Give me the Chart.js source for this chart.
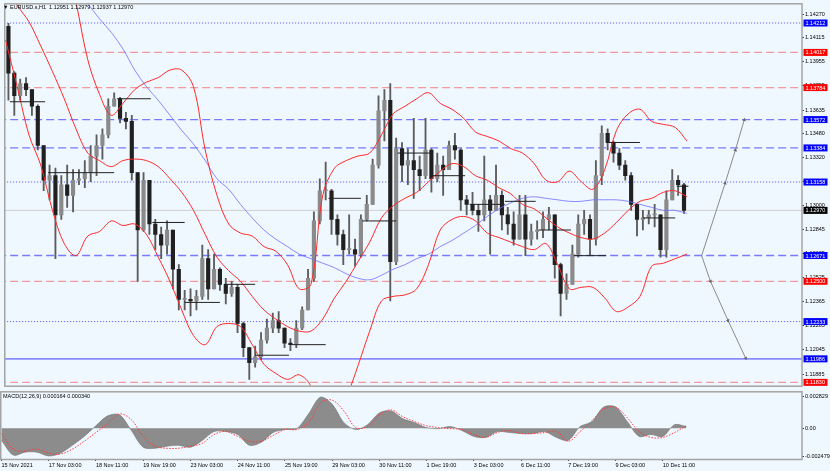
<!DOCTYPE html>
<html>
<head>
<meta charset="utf-8">
<script src="https://cdn.jsdelivr.net/npm/chart.js@4.4.0/dist/chart.umd.min.js"></script>
<style>
html, body { margin: 0; padding: 0; background: #f0f8ff; }
#wrap { position: relative; width: 830px; height: 471px; overflow: hidden; background: #f0f8ff; }
canvas { position: absolute; left: 0; }
#cMain { top: 0; }
#cMacd { top: 388px; }
.hdr { position: absolute; font: 5.5px "Liberation Sans"; color: #000; white-space: nowrap; }
</style>
</head>
<body>
<div id="wrap">
  <canvas id="cMain" width="830" height="390"></canvas>
  <canvas id="cMacd" width="830" height="83"></canvas>
  <div class="hdr" style="left:3px;top:4px;">&#9660; EURUSD.s,H1&nbsp; 1.12951 1.12979 1.12937 1.12970</div>
  <div class="hdr" style="left:3px;top:393px;">MACD(12,26,9) 0.000164 0.000340</div>
</div>
<script>
// 4 hour candles
const firstOpen = 1.1419;
const candleHigh = [1.1421,1.1389,1.1384,1.1385,1.1377,1.1367,1.1340,1.1327,1.1325,1.1320,
  1.1327,1.1324,1.1324,1.1330,1.1340,1.1347,1.1351,1.1371,1.1375,1.1372,
  1.1362,1.1360,1.1322,1.1322,1.1317,1.1291,1.1286,1.1290,1.1284,1.1261,
  1.1244,1.1245,1.1244,1.1274,1.1271,1.1268,1.1259,1.1252,1.1250,1.1248,
  1.1223,1.1206,1.1207,1.1216,1.1225,1.1229,1.1230,1.1219,1.1212,1.1224,
  1.1233,1.1258,1.1296,1.1318,1.1329,1.1311,1.1294,1.1284,1.1294,1.1278,
  1.1294,1.1307,1.1331,1.1373,1.1377,1.1381,1.1345,1.1342,1.1338,1.1358,
  1.1333,1.1358,1.1338,1.1335,1.1333,1.1343,1.1348,1.1338,1.1307,1.1309,
  1.1301,1.1333,1.1307,1.1327,1.1310,1.1299,1.1296,1.1307,1.1307,1.1288,
  1.1290,1.1296,1.1299,1.1294,1.1262,1.1255,1.1274,1.1294,1.1297,1.1294,
  1.1330,1.1353,1.1351,1.1343,1.1338,1.1330,1.1322,1.1301,1.1297,1.1297,
  1.1301,1.1294,1.1310,1.1324,1.1320,1.1315];
const candleLow = [1.1370,1.1360,1.1370,1.1373,1.1360,1.1337,1.1310,1.1304,1.1265,1.1291,
  1.1299,1.1296,1.1314,1.1312,1.1316,1.1320,1.1331,1.1345,1.1366,1.1355,
  1.1351,1.1317,1.1250,1.1283,1.1281,1.1271,1.1265,1.1268,1.1245,1.1231,
  1.1231,1.1227,1.1231,1.1238,1.1238,1.1245,1.1244,1.1235,1.1240,1.1216,
  1.1200,1.1185,1.1193,1.1198,1.1209,1.1216,1.1216,1.1206,1.1204,1.1206,
  1.1218,1.1231,1.1250,1.1288,1.1304,1.1281,1.1274,1.1261,1.1268,1.1260,
  1.1266,1.1290,1.1301,1.1325,1.1343,1.1237,1.1261,1.1316,1.1314,1.1305,
  1.1310,1.1318,1.1309,1.1316,1.1307,1.1324,1.1331,1.1297,1.1294,1.1294,
  1.1283,1.1290,1.1268,1.1297,1.1284,1.1281,1.1274,1.1278,1.1267,1.1274,
  1.1278,1.1279,1.1284,1.1252,1.1227,1.1238,1.1248,1.1266,1.1281,1.1267,
  1.1274,1.1314,1.1337,1.1329,1.1324,1.1317,1.1297,1.1280,1.1284,1.1288,
  1.1286,1.1266,1.1266,1.1304,1.1307,1.1295];
const candleClose = [1.1388,1.1373,1.1381,1.1377,1.1366,1.1340,1.1317,1.1320,1.1294,1.1314,
  1.1307,1.1317,1.1318,1.1322,1.1333,1.1340,1.1347,1.1366,1.1371,1.1358,
  1.1356,1.1322,1.1284,1.1317,1.1288,1.1281,1.1274,1.1284,1.1258,1.1238,
  1.1238,1.1237,1.1240,1.1265,1.1245,1.1258,1.1248,1.1242,1.1246,1.1222,
  1.1206,1.1196,1.1200,1.1211,1.1219,1.1224,1.1219,1.1209,1.1208,1.1219,
  1.1231,1.1252,1.1290,1.1310,1.1310,1.1291,1.1281,1.1271,1.1271,1.1268,
  1.1291,1.1301,1.1327,1.1363,1.1370,1.1263,1.1338,1.1327,1.1330,1.1324,
  1.1320,1.1337,1.1318,1.1327,1.1324,1.1340,1.1337,1.1304,1.1301,1.1297,
  1.1294,1.1304,1.1297,1.1307,1.1294,1.1288,1.1278,1.1294,1.1278,1.1283,
  1.1284,1.1291,1.1294,1.1261,1.1242,1.1248,1.1268,1.1288,1.1291,1.1278,
  1.1320,1.1348,1.1342,1.1335,1.1327,1.1320,1.1301,1.1291,1.1292,1.1294,
  1.1294,1.1271,1.1304,1.1317,1.1314,1.1297];

// indicators sampled every 8 hours
const bbUpper = [1.1486,1.1487,1.1497,1.1484,1.1481,1.1467,1.1435,1.1397,1.1374,1.1360,
  1.1368,1.1377,1.1382,1.1385,1.1390,1.1390,1.1379,1.1337,1.1307,1.1288,
  1.1282,1.1280,1.1273,1.1270,1.1261,1.1245,1.1248,1.1307,1.1325,1.1330,
  1.1333,1.1335,1.1347,1.1361,1.1366,1.1371,1.1375,1.1368,1.1364,1.1358,
  1.1349,1.1346,1.1343,1.1338,1.1335,1.1328,1.1317,1.1316,1.1323,1.1316,
  1.1311,1.1324,1.1350,1.1361,1.1364,1.1356,1.1354,1.1352,1.1343];
const bbMid = [1.1448,1.1433,1.1422,1.1406,1.1389,1.1371,1.1351,1.1335,1.1330,1.1326,
  1.1330,1.1331,1.1330,1.1326,1.1318,1.1309,1.1297,1.1281,1.1266,1.1257,
  1.1250,1.1240,1.1231,1.1225,1.1220,1.1217,1.1217,1.1225,1.1239,1.1250,
  1.1263,1.1276,1.1292,1.1300,1.1305,1.1309,1.1316,1.1323,1.1328,1.1326,
  1.1320,1.1317,1.1312,1.1308,1.1301,1.1298,1.1292,1.1286,1.1282,1.1279,
  1.1278,1.1282,1.1289,1.1297,1.1303,1.1305,1.1309,1.1310,1.1306];
const bbLower = [1.1410,1.1379,1.1347,1.1327,1.1297,1.1275,1.1267,1.1280,1.1283,1.1290,
  1.1287,1.1288,1.1281,1.1266,1.1250,1.1231,1.1214,1.1208,1.1220,1.1222,
  1.1220,1.1208,1.1195,1.1189,1.1185,1.1188,1.1180,1.1144,1.1152,1.1172,
  1.1194,1.1217,1.1237,1.1240,1.1241,1.1245,1.1261,1.1284,1.1291,1.1293,
  1.1290,1.1282,1.1279,1.1276,1.1273,1.1271,1.1275,1.1261,1.1245,1.1246,
  1.1246,1.1239,1.1230,1.1233,1.1240,1.1260,1.1262,1.1265,1.1268];
const maLine = [null,null,null,null,null,1.1452,1.1443,1.1434,1.1424,1.1415,
  1.1404,1.1390,1.1379,1.1370,1.1360,1.1350,1.1341,1.1330,1.1318,1.1311,
  1.1301,1.1292,1.1284,1.1278,1.1273,1.1268,1.1265,1.1262,1.1259,1.1255,
  1.1252,1.1251,1.1254,1.1258,1.1261,1.1265,1.1268,1.1273,1.1277,1.1282,
  1.1287,1.1293,1.1298,1.1302,1.1305,1.1306,1.1305,1.1304,1.1303,1.1303,
  1.1304,1.1304,1.1304,1.1303,1.1301,1.1299,1.1297,1.1297,1.1295];
const macdMain = [-0.00106,-0.00235,-0.00209,-0.00209,-0.00243,-0.00218,-0.00149,-0.00071,0.00023,0.00109,
  0.00118,-0.00020,-0.00166,-0.00175,-0.00157,-0.00149,-0.00166,-0.00106,-0.00028,-0.00028,
  -0.00054,-0.00149,-0.00123,-0.00037,-0.00011,-0.00003,0.00126,0.00273,0.00212,0.00049,
  -0.00011,0.00032,0.00135,0.00152,0.00083,0.00049,0.00006,-0.00003,0.00015,-0.00020,
  -0.00071,-0.00080,-0.00028,-0.00037,-0.00046,-0.00046,-0.00028,-0.00080,-0.00106,0.00015,
  0.00058,0.00187,0.00187,0.00058,-0.00071,-0.00054,-0.00071,0.00032,0.00015];
const macdSignal = [-0.00046,-0.00183,-0.00200,-0.00183,-0.00218,-0.00226,-0.00183,-0.00114,-0.00037,0.00040,
  0.00126,0.00075,-0.00071,-0.00157,-0.00175,-0.00175,-0.00157,-0.00132,-0.00054,-0.00028,
  -0.00071,-0.00114,-0.00114,-0.00063,-0.00011,-0.00011,0.00049,0.00221,0.00247,0.00152,
  0.00006,0.00015,0.00118,0.00161,0.00101,0.00058,0.00023,0.00006,-0.00003,-0.00011,
  -0.00054,-0.00080,-0.00037,-0.00020,-0.00046,-0.00046,-0.00037,-0.00028,-0.00114,-0.00028,
  0.00066,0.00169,0.00187,0.00092,-0.00028,-0.00080,-0.00080,-0.00037,0.00023];

// short black day levels (start hour, end hour, price)
const pivotStart = [3,29,76,100,122,149,170,195,220,243,267,289,316,340,363,387,409,434,457];
const pivotEnd   = [27,74,99,122,146,170,193,218,242,266,289,313,340,361,385,409,432,456,465];
const pivotPrice = [1.1369,1.1322,1.1371,1.1289,1.1236,1.1248,1.1201,1.1208,1.1305,1.1290,
  1.1335,1.1320,1.1301,1.1303,1.1284,1.1267,1.1342,1.1292,1.1313];

// horizontal levels
const levelPrices = [1.14212,1.14017,1.13784,1.13572,1.13384,1.13158,1.12970,1.12671,1.12500,1.12233,1.11986,1.11830];
const levelKinds  = ['blueDot','red','red','blue','blue','blueDot','price','blue','red','blueDot','blueSolid','red'];

// projection arrows
const projUpHours = [474,490,497,503];
const projUpPrices = [1.1267,1.1315,1.1337,1.1357];
const projDownHours = [474,480,492,504];
const projDownPrices = [1.1267,1.1250,1.1224,1.1199];

const priceTicks = [1.14270,1.14115,1.13955,1.13795,1.13635,1.13480,1.13320,1.13160,1.13000,
  1.12845,1.12685,1.12525,1.12365,1.12205,1.12045,1.11885];
const macdTicks = [0.002829, 0, -0.002479];
const timeHours = [0,32,64,96,128,160,192,224,256,288,320,352,384,416,448];
const timeLabels = ['15 Nov 2021','17 Nov 03:00','18 Nov 11:00','19 Nov 19:00','23 Nov 03:00',
  '24 Nov 11:00','25 Nov 19:00','29 Nov 03:00','30 Nov 11:00','1 Dec 19:00','3 Dec 03:00',
  '6 Dec 11:00','7 Dec 19:00','9 Dec 03:00','10 Dec 11:00'];

Chart.defaults.font.family = 'Liberation Sans';
Chart.defaults.font.size = 5.5;
Chart.defaults.color = '#000';

const X_MIN = -1.016, X_MAX = 542.34;
const candleHours = candleClose.map((c, i) => 4 * i + 2);
const candleOpen = candleClose.map((c, i) => i === 0 ? firstOpen : candleClose[i - 1]);
const indHours = bbMid.map((v, k) => 8 * k);
const toPts = (hours, vals) => hours.map((h, i) => ({x: h, y: vals[i]}));

const levelStyle = {
  blueDot:   {color: '#5050ff', dash: [1, 2], width: 1},
  blue:      {color: 'rgba(90,90,255,0.8)', dash: [8, 4], width: 1.3},
  red:       {color: 'rgba(240,130,130,0.8)', dash: [8, 4], width: 1.3},
  blueSolid: {color: 'rgba(120,120,255,0.85)', dash: [], width: 1.6},
  price:     {color: '#cfcfcf', dash: [], width: 1}
};
const tagColor = {blueDot: '#0000ff', blue: '#0000ff', blueSolid: '#0000ff', red: '#ff0000', price: '#000000'};

const framePlugin = {
  id: 'frame',
  afterDraw(chart) {
    const {ctx, chartArea: a} = chart;
    ctx.save();
    ctx.strokeStyle = '#a4a4a4';
    ctx.lineWidth = 1.5;
    ctx.strokeRect(a.left + 0.75, a.top - 0.5, a.right - a.left - 0.75, a.bottom - a.top + 1);
    ctx.restore();
  }
};

const levelTagPlugin = {
  id: 'levelTags',
  afterDraw(chart) {
    const {ctx, chartArea: a} = chart;
    const y = chart.scales.y;
    ctx.save();
    ctx.font = '5.5px "Liberation Sans"';
    ctx.textBaseline = 'middle';
    levelPrices.forEach((p, i) => {
      const py = y.getPixelForValue(p);
      ctx.fillStyle = tagColor[levelKinds[i]];
      ctx.fillRect(a.right + 1.5, py - 3.5, 24, 7);
      ctx.fillStyle = '#fff';
      ctx.fillText(p.toFixed(5), a.right + 3.5, py + 0.5);
    });
    ctx.restore();
  }
};

// main price panel
const mainSets = [];
levelPrices.forEach((p, i) => {
  const st = levelStyle[levelKinds[i]];
  mainSets.push({type: 'line', data: [{x: -5, y: p}, {x: 560, y: p}], borderColor: st.color,
    borderDash: st.dash, borderWidth: st.width, pointRadius: 0, order: 10});
});
mainSets.push({type: 'bar', data: candleHours.map((h, i) => ({x: h, y: [candleLow[i], candleHigh[i]]})),
  backgroundColor: '#5c5c5c', barThickness: 1.2, grouped: false, order: 6});
mainSets.push({type: 'bar', data: candleHours.map((h, i) => ({x: h, y: [candleOpen[i], candleClose[i]]})),
  backgroundColor: candleClose.map((c, i) => c >= candleOpen[i] ? '#8a8a8a' : '#202020'),
  barThickness: 3.5, minBarLength: 1, grouped: false, order: 5});
mainSets.push({type: 'line', data: toPts(indHours, maLine), borderColor: 'rgba(110,110,255,0.8)',
  borderWidth: 1, pointRadius: 0, tension: 0.35, order: 4});
[bbUpper, bbMid, bbLower].forEach(arr => {
  mainSets.push({type: 'line', data: toPts(indHours, arr), borderColor: '#ff2a2a',
    borderWidth: 1, pointRadius: 0, tension: 0.35, order: 3});
});
const pivotPts = [];
pivotStart.forEach((s, i) => {
  pivotPts.push({x: s, y: pivotPrice[i]}, {x: pivotEnd[i], y: pivotPrice[i]}, {x: pivotEnd[i], y: null});
});
mainSets.push({type: 'line', data: pivotPts, borderColor: '#202020', borderWidth: 1,
  pointRadius: 0, spanGaps: false, order: 2});
mainSets.push({type: 'line', data: toPts(projUpHours, projUpPrices), borderColor: '#8a8a8a',
  backgroundColor: '#6a6a6a', borderWidth: 1, pointStyle: 'triangle', pointRadius: [0, 2.2, 2.2, 2.2],
  pointRotation: 17, pointBorderWidth: 0, order: 1});
mainSets.push({type: 'line', data: toPts(projDownHours, projDownPrices), borderColor: '#8a8a8a',
  backgroundColor: '#6a6a6a', borderWidth: 1, pointStyle: 'triangle', pointRadius: [0, 2.2, 2.2, 2.2],
  pointRotation: 157, pointBorderWidth: 0, order: 1});

new Chart(document.getElementById('cMain'), {
  type: 'line',
  data: {datasets: mainSets},
  options: {
    responsive: false, animation: false, events: [],
    layout: {padding: {top: 2, bottom: 2, left: 0, right: 0}},
    plugins: {legend: {display: false}, tooltip: {enabled: false}},
    scales: {
      x: {type: 'linear', min: X_MIN, max: X_MAX, offset: false, display: false},
      y: {
        position: 'right', min: 1.11808, max: 1.14336,
        afterFit: s => { s.width = 28; },
        afterBuildTicks: s => { s.ticks = priceTicks.map(v => ({value: v})); },
        ticks: {callback: v => v.toFixed(5), padding: 1, font: {size: 5.5}},
        grid: {drawOnChartArea: false, drawTicks: true, tickLength: 2, color: '#404040'},
        border: {display: false}
      }
    }
  },
  plugins: [framePlugin, levelTagPlugin]
});

// MACD panel
new Chart(document.getElementById('cMacd'), {
  type: 'line',
  data: {datasets: [
    {data: toPts(indHours, macdSignal), borderColor: '#ff3a3a', borderWidth: 1, borderDash: [1.5, 1.5],
      pointRadius: 0, tension: 0.35, order: 1},
    {data: toPts(indHours, macdMain), borderColor: '#707070', backgroundColor: '#8c8c8c', borderWidth: 0.6,
      fill: 'origin', pointRadius: 0, tension: 0.3, order: 2}
  ]},
  options: {
    responsive: false, animation: false, events: [],
    layout: {padding: {top: 3, bottom: 0, left: 0, right: 0}},
    plugins: {legend: {display: false}, tooltip: {enabled: false}},
    scales: {
      x: {
        type: 'linear', min: X_MIN, max: X_MAX, offset: false, position: 'bottom',
        afterFit: s => { s.height = 12; },
        afterBuildTicks: s => { s.ticks = timeHours.map(v => ({value: v})); },
        ticks: {callback: v => timeLabels[timeHours.indexOf(v)], align: 'start', autoSkip: false,
          maxRotation: 0, padding: 1, font: {size: 5.5}},
        grid: {drawOnChartArea: false, drawTicks: true, tickLength: 2, color: '#404040'},
        border: {display: false}
      },
      y: {
        position: 'right', min: -0.002692, max: 0.003156,
        afterFit: s => { s.width = 28; },
        afterBuildTicks: s => { s.ticks = macdTicks.map(v => ({value: v})); },
        ticks: {callback: v => v === 0 ? '0.00' : v.toFixed(6), padding: 1, font: {size: 5.5}},
        grid: {drawOnChartArea: false, drawTicks: true, tickLength: 2, color: '#404040'},
        border: {display: false}
      }
    }
  },
  plugins: [framePlugin]
});
</script>
</body>
</html>
